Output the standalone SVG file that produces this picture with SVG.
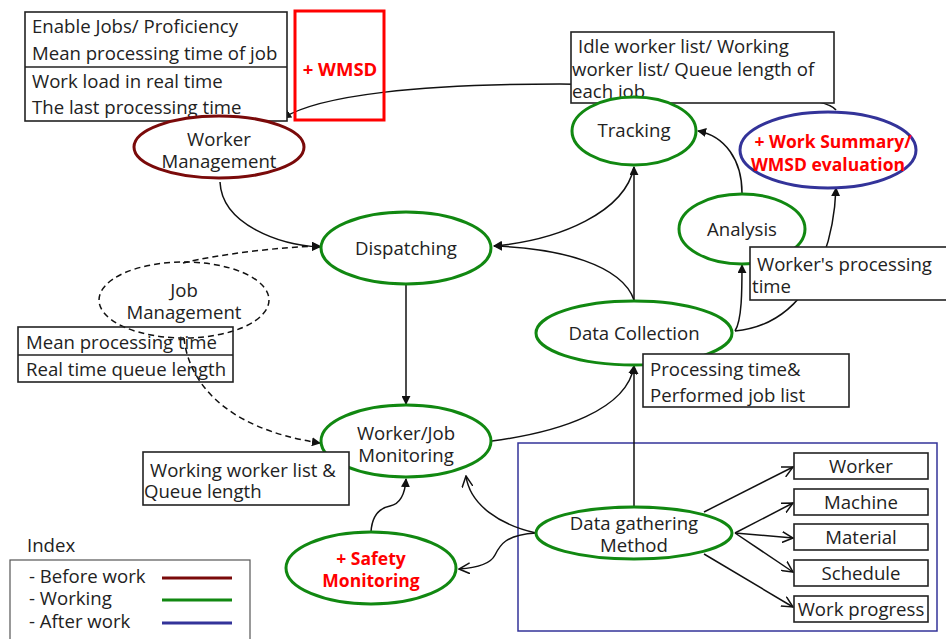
<svg xmlns="http://www.w3.org/2000/svg" width="946" height="639" viewBox="0 0 946 639">
<style>
text{font-family:"Open Sans","Noto Sans","DejaVu Sans",sans-serif;font-size:18.6px;fill:#222}
.c{text-anchor:middle}
.red{fill:#ff0000;font-weight:bold;font-size:17.5px}
.box{fill:#fff;stroke:#222;stroke-width:1.6}
.g{fill:#fff;stroke:#118811;stroke-width:3}
.bw{fill:#fff;stroke:#7a0a0a;stroke-width:3}
.aw{fill:#fff;stroke:#333399;stroke-width:3}
.ln{fill:none;stroke:#111;stroke-width:1.5}
.dash{stroke-dasharray:6 4}
</style>
<defs>
<marker id="af" viewBox="0 0 10 10" refX="9" refY="5" markerWidth="9" markerHeight="9" orient="auto" markerUnits="userSpaceOnUse"><path d="M0,0 L10,5 L0,10 z" fill="#111"/></marker>
<marker id="ao" viewBox="0 0 12 12" refX="11" refY="6" markerWidth="12" markerHeight="12" orient="auto" markerUnits="userSpaceOnUse"><path d="M0,0.5 L11,6 L0,11.5" fill="none" stroke="#111" stroke-width="1.5"/></marker>
</defs>

<rect x="518" y="443" width="419" height="188" fill="none" stroke="#333399" stroke-width="1.5"/>

<g id="connectors">
<path class="ln" d="M836,110 C825,94 700,86 560,84 C420,84 320,95 283,118" marker-end="url(#af)"/>
<path class="ln" d="M220,182 C222,225 280,245 320,247" marker-end="url(#af)"/>
<path class="ln dash" d="M183,263 C220,254 280,247 320,246" marker-end="url(#af)"/>
<path class="ln dash" d="M184,338 C188,378 220,428 320,443" marker-end="url(#af)"/>
<path class="ln" d="M406,284 L406,404" marker-end="url(#af)"/>
<path class="ln" d="M634,300 C622,265 560,248 494,246" marker-end="url(#af)"/>
<path class="ln" d="M634,167 C625,212 560,240 494,246" marker-end="url(#af)"/>
<path class="ln" d="M634,300 L634,167" marker-end="url(#af)"/>
<path class="ln" d="M742,193 C742,160 725,136 698,131" marker-end="url(#af)"/>
<path class="ln" d="M735,331 C742,320 742,290 742,265" marker-end="url(#af)"/>
<path class="ln" d="M735,331 C800,325 833,262 836,188" marker-end="url(#af)"/>
<path class="ln" d="M492,441 C560,432 627,410 634,366" marker-end="url(#af)"/>
<path class="ln" d="M634,507 L634,366" marker-end="url(#af)"/>
<path class="ln" d="M536,533 C500,525 470,505 466,476" marker-end="url(#ao)"/>
<path class="ln" d="M536,533 C505,535 500,545 495,555 C490,565 475,568 459,569" marker-end="url(#ao)"/>
<path class="ln" d="M371,532 C372,515 380,508 390,506 C400,504 405,495 406,479" marker-end="url(#af)"/>
<path class="ln" d="M704,512 L793,467" marker-end="url(#ao)"/>
<path class="ln" d="M735,533 L793,503" marker-end="url(#ao)"/>
<path class="ln" d="M735,533 L793,538" marker-end="url(#ao)"/>
<path class="ln" d="M735,533 L793,572" marker-end="url(#ao)"/>
<path class="ln" d="M704,554 L793,607" marker-end="url(#ao)"/>
</g>

<g id="worker-info">
<rect class="box" x="25" y="12" width="262" height="109"/>
<line x1="25" y1="67" x2="287" y2="67" stroke="#222" stroke-width="1.6"/>
<text x="32" y="33">Enable Jobs/ Proficiency</text>
<text x="32" y="60">Mean processing time of job</text>
<text x="32" y="88">Work load in real time</text>
<text x="32" y="114">The last processing time</text>
</g>
<g id="wmsd">
<rect x="295" y="11" width="89" height="109" fill="none" stroke="#ff0000" stroke-width="3"/>
<text class="c red" x="340" y="76" style="font-size:18.5px">+ WMSD</text>
</g>
<g id="worker-management">
<ellipse class="bw" cx="219" cy="147" rx="85" ry="31"/>
<text class="c" x="219" y="146">Worker</text>
<text class="c" x="219" y="168">Management</text>
</g>
<g id="tracking-info">
<rect class="box" x="571" y="32" width="263" height="71"/>
<text x="578" y="53">Idle worker list/ Working</text>
<text x="572" y="76">worker list/ Queue length of</text>
<text x="572" y="98">each job</text>
</g>
<g id="tracking">
<ellipse class="g" cx="634" cy="131" rx="62" ry="34"/>
<text class="c" x="634" y="137">Tracking</text>
</g>
<g id="work-summary">
<ellipse class="aw" cx="828" cy="150" rx="88" ry="38"/>
<text class="c red" x="833" y="148">+ Work Summary/</text>
<text class="c red" x="828" y="171">WMSD evaluation</text>
</g>
<g id="analysis">
<ellipse class="g" cx="742" cy="229" rx="63" ry="35"/>
<text class="c" x="742" y="236">Analysis</text>
</g>
<g id="analysis-info">
<rect class="box" x="750" y="247" width="200" height="53"/>
<text x="757" y="271">Worker's processing</text>
<text x="752" y="293">time</text>
</g>
<g id="dispatching">
<ellipse class="g" cx="406" cy="248" rx="85" ry="36"/>
<text class="c" x="406" y="255">Dispatching</text>
</g>
<g id="job-management">
<ellipse cx="184" cy="300" rx="85" ry="38" fill="none" stroke="#111" stroke-width="1.5" stroke-dasharray="6 4"/>
<text class="c" x="184" y="297">Job</text>
<text class="c" x="184" y="319">Management</text>
</g>
<g id="job-info">
<rect class="box" x="18" y="327" width="215" height="55" fill-opacity="0"/>
<line x1="18" y1="355" x2="233" y2="355" stroke="#222" stroke-width="1.6"/>
<text x="26" y="349">Mean processing time</text>
<text x="26" y="376">Real time queue length</text>
</g>
<g id="data-collection">
<ellipse class="g" cx="634" cy="333" rx="98" ry="32"/>
<text class="c" x="634" y="340">Data Collection</text>
</g>
<g id="collection-info">
<rect class="box" x="643" y="354" width="206" height="53"/>
<text x="650" y="376">Processing time&amp;</text>
<text x="650" y="402">Performed job list</text>
</g>
<g id="monitoring">
<ellipse class="g" cx="406" cy="441" rx="85" ry="36"/>
<text class="c" x="406" y="440">Worker/Job</text>
<text class="c" x="406" y="462">Monitoring</text>
</g>
<g id="monitoring-info">
<rect class="box" x="143" y="452" width="206" height="53"/>
<text x="150" y="477">Working worker list &amp;</text>
<text x="144" y="498">Queue length</text>
</g>
<g id="safety">
<ellipse class="g" cx="371" cy="568" rx="85" ry="36"/>
<text class="c red" x="371" y="565">+ Safety</text>
<text class="c red" x="371" y="587">Monitoring</text>
</g>
<g id="data-gathering">
<ellipse class="g" cx="634" cy="533" rx="98" ry="26"/>
<text class="c" x="634" y="530">Data gathering</text>
<text class="c" x="634" y="552">Method</text>
</g>
<g id="src-worker"><rect class="box" x="794" y="453" width="134" height="26"/><text class="c" x="861" y="473">Worker</text></g>
<g id="src-machine"><rect class="box" x="794" y="489" width="134" height="26"/><text class="c" x="861" y="509">Machine</text></g>
<g id="src-material"><rect class="box" x="794" y="524" width="134" height="26"/><text class="c" x="861" y="544">Material</text></g>
<g id="src-schedule"><rect class="box" x="794" y="560" width="134" height="26"/><text class="c" x="861" y="580">Schedule</text></g>
<g id="src-progress"><rect class="box" x="794" y="596" width="134" height="26"/><text class="c" x="861" y="616">Work progress</text></g>

<g id="legend">
<text x="27" y="552">Index</text>
<rect x="10" y="560" width="240" height="90" fill="none" stroke="#555" stroke-width="1.2"/>
<text x="29" y="583">- Before work</text>
<text x="29" y="605">- Working</text>
<text x="29" y="628">- After work</text>
<line x1="162" y1="578" x2="232" y2="578" stroke="#7a0a0a" stroke-width="3"/>
<line x1="162" y1="600" x2="232" y2="600" stroke="#118811" stroke-width="3"/>
<line x1="162" y1="623" x2="232" y2="623" stroke="#333399" stroke-width="3"/>
</g>
</svg>
